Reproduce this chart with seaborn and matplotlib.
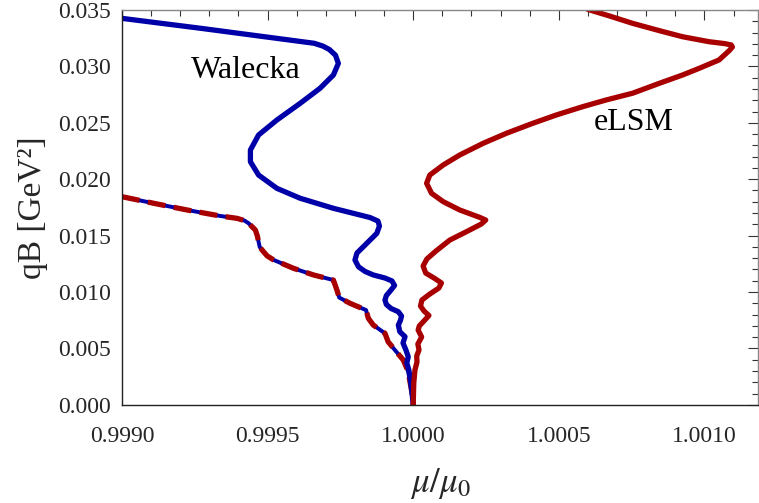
import numpy as np
import pandas as pd
import matplotlib
matplotlib.use("Agg")
import matplotlib.pyplot as plt
import seaborn as sns
from matplotlib.ticker import MultipleLocator, FormatStrFormatter

# ---- data ----
# Walecka curve: mu/mu0 and qB [1e-3 GeV^2]
wal_x = [0.99900, 0.999270, 0.999660, 0.999690, 0.999712, 0.999733, 0.999743,
         0.999726, 0.999680, 0.999612, 0.999532, 0.999469, 0.999441, 0.999441,
         0.999469, 0.999532, 0.999612, 0.999726, 0.999817, 0.999852, 0.999879,
         0.999884, 0.999875, 0.999852, 0.999829, 0.999807, 0.999800, 0.999812,
         0.999835, 0.999863, 0.999903, 0.999927, 0.999936, 0.999924, 0.999908,
         0.999903, 0.999908, 0.999924, 0.999949, 0.999960, 0.999956, 0.999949,
         0.999954, 0.999972, 0.999965, 0.999975, 0.999983, 0.999978, 0.999985,
         0.999989, 0.999995, 1.0]
wal_y = [34.26, 33.38, 32.05, 31.80, 31.50, 31.00, 30.27, 29.24, 28.06, 26.73,
         25.25, 23.92, 22.59, 21.55, 20.37, 19.19, 18.31, 17.42, 16.83, 16.60,
         16.29, 15.85, 15.20, 14.61, 14.02, 13.46, 12.84, 12.24, 11.82, 11.51,
         11.24, 10.98, 10.58, 10.18, 9.69, 9.29, 8.89, 8.54, 8.25, 7.87, 7.47,
         7.07, 6.48, 6.04, 5.48, 4.86, 4.26, 3.71, 3.09, 2.46, 1.31, 0.0]

# eLSM curve
el_x = [1.000599, 1.000674, 1.000753, 1.000845, 1.000925, 1.001016, 1.001070,
        1.001092, 1.001096, 1.001086, 1.001050, 1.000982, 1.000925, 1.000845,
        1.000753, 1.000662, 1.000582, 1.000491, 1.000411, 1.000320, 1.000240,
        1.000160, 1.000103, 1.000057, 1.000046, 1.000063, 1.000103, 1.000160,
        1.000228, 1.000249, 1.000234, 1.000183, 1.000126, 1.000078, 1.000047,
        1.000034, 1.000043, 1.000074, 1.000097, 1.000088, 1.000057, 1.000030,
        1.000025, 1.000037, 1.000054, 1.000040, 1.000021, 1.000017, 1.000029,
        1.000016, 1.000020, 1.000012, 1.000013, 1.000006, 1.000002, 1.0]
el_y = [35.06, 34.47, 33.82, 33.17, 32.63, 32.19, 32.02, 31.90, 31.72, 31.42,
        30.57, 29.83, 29.24, 28.50, 27.62, 27.02, 26.43, 25.69, 24.96, 24.07,
        23.18, 22.15, 21.26, 20.37, 19.64, 18.75, 18.01, 17.27, 16.62, 16.38,
        16.03, 15.35, 14.61, 13.63, 12.93, 12.31, 11.68, 11.20, 10.80, 10.35,
        9.82, 9.29, 8.76, 8.32, 7.92, 7.52, 6.99, 6.63, 6.01, 5.39, 4.86,
        4.33, 3.79, 3.09, 1.93, 0.0]

# common threshold curve (dashed, both models)
th_x = [0.99900, 0.999110, 0.999224, 0.999338, 0.999395, 0.999420, 0.999435,
        0.999458, 0.999465, 0.999469, 0.999473, 0.999486, 0.999499, 0.999521,
        0.999589, 0.999658, 0.999726, 0.999738, 0.999746, 0.999783, 0.999838,
        0.999846, 0.999863, 0.999903, 0.999914, 0.999937, 0.999966, 0.999983,
        0.999989, 0.999998, 1.0]
th_y = [18.45, 17.86, 17.27, 16.74, 16.53, 16.34, 16.09, 15.50, 14.96, 14.46,
        13.99, 13.57, 13.19, 12.84, 12.10, 11.51, 11.06, 10.18, 9.51, 9.00,
        8.40, 7.67, 7.07, 6.34, 5.59, 4.86, 3.97, 2.93, 2.05, 0.72, 0.0]

labels = ["Walecka", "eLSM"]
label_pos = [(0.999424, 0.02968), (1.000756, 0.02507)]

# ---- style ----
sns.set_theme(style="white")
plt.rcParams["font.family"] = ["Liberation Serif", "DejaVu Serif"]
plt.rcParams["mathtext.fontset"] = "stix"

BLUE = "#0000a8"
RED = "#a80000"

df_wal = pd.DataFrame({"x": wal_x, "y": np.array(wal_y) * 1e-3})
df_el = pd.DataFrame({"x": el_x, "y": np.array(el_y) * 1e-3})
df_th = pd.DataFrame({"x": th_x, "y": np.array(th_y) * 1e-3})

fig = plt.figure(figsize=(7.59, 5.03), dpi=100)
ax = fig.add_axes([0.1607, 0.1952, 0.8380, 0.7849])

lw = 3.8
sns.lineplot(data=df_th, x="x", y="y", sort=False, estimator=None, ax=ax,
             color=BLUE, linewidth=lw * 0.75, solid_capstyle="butt",
             solid_joinstyle="round")
sns.lineplot(data=df_th, x="x", y="y", sort=False, estimator=None, ax=ax,
             color=RED, linewidth=lw, linestyle=(0, (3.4, 1.6)),
             dash_capstyle="butt", dash_joinstyle="round")
sns.lineplot(data=df_wal, x="x", y="y", sort=False, estimator=None, ax=ax,
             color=BLUE, linewidth=lw, solid_capstyle="round",
             solid_joinstyle="round")
sns.lineplot(data=df_el, x="x", y="y", sort=False, estimator=None, ax=ax,
             color=RED, linewidth=lw, solid_capstyle="round",
             solid_joinstyle="round")

for lab, (lx, ly) in zip(labels, label_pos):
    ax.text(lx, ly, lab, fontsize=23, ha="center", va="center", color="black")

ax.set_xlim(0.9990, 1.001184)
ax.set_ylim(0.0, 0.035)
ax.xaxis.set_major_locator(MultipleLocator(0.0005))
ax.xaxis.set_minor_locator(MultipleLocator(0.0001))
ax.yaxis.set_major_locator(MultipleLocator(0.005))
ax.yaxis.set_minor_locator(MultipleLocator(0.001))
ax.xaxis.set_major_formatter(FormatStrFormatter("%.4f"))
ax.yaxis.set_major_formatter(FormatStrFormatter("%.3f"))

ax.tick_params(which="both", direction="in", top=True, right=True,
               labeltop=False, labelright=False, color="#333333", width=0.8)
ax.tick_params(which="major", length=7, labelsize=17)
ax.tick_params(axis="x", which="major", pad=15)
ax.tick_params(axis="y", which="major", pad=8)
ax.tick_params(which="minor", length=4)

for side in ["left", "bottom"]:
    ax.spines[side].set_color("#222222")
    ax.spines[side].set_linewidth(1.0)
for side in ["top", "right"]:
    ax.spines[side].set_color("#888888")
    ax.spines[side].set_linewidth(1.0)

ax.set_xlabel(r"$\mu/\mu_0$", fontsize=25)
ax.set_ylabel("qB [GeV²]", fontsize=24)
ax.xaxis.set_label_coords(0.5, -0.155)
ax.yaxis.set_label_coords(-0.117, 0.5)
ax.xaxis.label.set_va("top")

fig.savefig("out.png", dpi=100)
